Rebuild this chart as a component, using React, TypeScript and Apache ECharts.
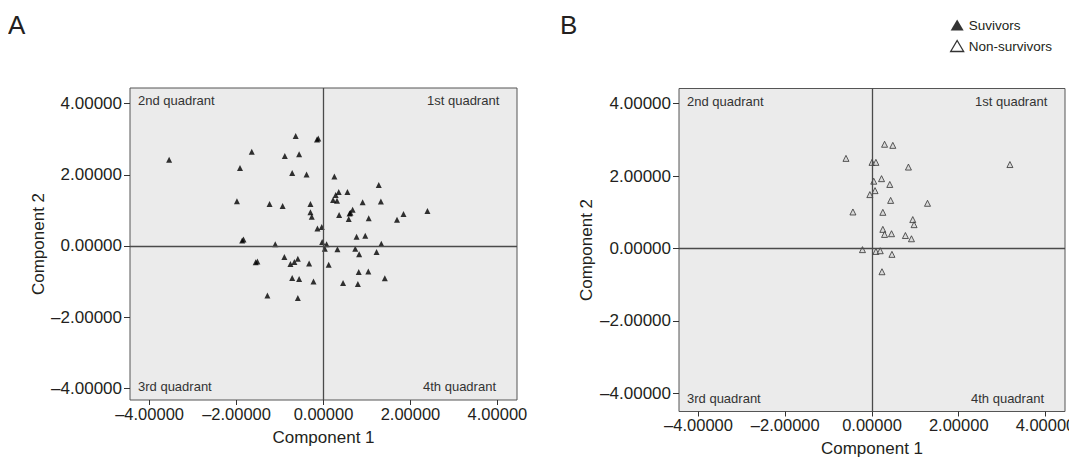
import React, { useEffect, useRef } from "react";
import * as echarts from "echarts";

// Panel A – survivors (Component 1, Component 2)
const survivorsX = [
  -3.55, -1.65, -1.92, -0.64, -0.89, -0.56, -0.15, -0.12, -0.72, -0.39,
  -1.99, -1.24, -0.94, -0.30, -0.30, -0.27, -0.14, -1.87, -1.84, -1.11,
  0.25, 1.27, 0.35, 0.55, 0.28, 0.22, 0.31, 0.90, 1.32, 0.67,
  0.60, 0.62, 0.36, 0.58, 1.04, 1.84, 1.69, 2.39, -0.04, 0.76,
  0.96, -0.03, 0.07, 1.33, 0.03, 0.32, 0.73, 1.22, -0.90, -0.59,
  -0.67, -0.76, -1.56, -1.52, -0.33, -0.72, -0.56, -0.23, -1.29, -0.59,
  0.82, 0.12, 0.81, 1.03, 1.41, 0.45, 0.79,
];
const survivorsY = [
  2.42, 2.65, 2.19, 3.09, 2.53, 2.58, 2.99, 3.02, 2.05, 2.01,
  1.26, 1.18, 1.12, 1.18, 0.95, 0.82, 0.49, 0.15, 0.18, 0.05,
  1.95, 1.71, 1.52, 1.52, 1.43, 1.29, 1.27, 1.23, 1.25, 1.02,
  0.91, 0.93, 0.87, 0.76, 0.78, 0.90, 0.74, 0.98, 0.53, 0.26,
  0.29, 0.11, 0.05, 0.06, -0.08, -0.09, -0.08, -0.17, -0.31, -0.36,
  -0.45, -0.51, -0.46, -0.44, -0.49, -0.90, -0.93, -1.00, -1.39, -1.46,
  -0.23, -0.53, -0.73, -0.72, -0.91, -1.04, -1.07,
];

// Panel B – non-survivors
const nonSurvivorsX = [
  0.29, 0.48, -0.60, 0.00, 0.09, 0.84, 0.22, 0.04, 0.41, 0.07,
  -0.05, 0.43, 1.28, -0.44, 0.25, 0.94, 0.97, 0.25, 0.29, 0.45,
  0.77, 0.91, -0.22, 0.09, 0.19, 0.46, 0.23, 3.18,
];
const nonSurvivorsY = [
  2.88, 2.85, 2.49, 2.38, 2.38, 2.25, 1.93, 1.86, 1.77, 1.60,
  1.49, 1.33, 1.25, 1.01, 1.00, 0.80, 0.66, 0.53, 0.39, 0.41,
  0.36, 0.27, -0.03, -0.08, -0.06, -0.16, -0.64, 2.32,
];

const tickValues = [-4, -2, 0, 2, 4];
const quadrantLabels = ["1st quadrant", "2nd quadrant", "3rd quadrant", "4th quadrant"];
const panelLetters = ["A", "B"];
const seriesNames = ["Suvivors", "Non-survivors"];
const axisNames = ["Component 1", "Component 2"];

const FONT = "'Liberation Sans', Arial, Helvetica, sans-serif";
const TEXT = "#231f20";

const fmt = (v: number) => (v < 0 ? "\u2013" : "") + Math.abs(v).toFixed(5);

const zip = (xs: number[], ys: number[]) => xs.map((x, i) => [x, ys[i]]);

export default function App() {
  const ref = useRef<HTMLDivElement>(null);

  useEffect(() => {
    if (!ref.current) return;
    const chart = echarts.init(ref.current, undefined, { renderer: "svg" });

    const grids = [
      { left: 130, top: 88, width: 387, height: 312 },
      { left: 679, top: 88.5, width: 386, height: 323 },
    ];
    const yRanges = [
      [-4.33, 4.44],
      [-4.5, 4.42],
    ];
    const yNameGaps = [77, 84];
    const xNameGaps = [29, 28];

    const xAxes = grids.map((_, i) => ({
      type: "value",
      gridIndex: i,
      min: -4.45,
      max: 4.45,
      axisLine: { show: false, onZero: false },
      axisTick: { show: true, customValues: tickValues, length: 5, lineStyle: { color: "#333" } },
      axisLabel: { customValues: tickValues, formatter: fmt, fontSize: 16.5, color: TEXT, fontFamily: FONT, margin: 5 },
      splitLine: { show: false },
      name: axisNames[0],
      nameLocation: "middle",
      nameGap: xNameGaps[i],
      nameTextStyle: { fontSize: 17, color: TEXT, fontFamily: FONT },
    }));
    const yAxes = grids.map((_, i) => ({
      type: "value",
      gridIndex: i,
      min: yRanges[i][0],
      max: yRanges[i][1],
      axisLine: { show: false, onZero: false },
      axisTick: { show: true, customValues: tickValues, length: 6, lineStyle: { color: "#333" } },
      axisLabel: { customValues: tickValues, formatter: fmt, fontSize: 17, color: TEXT, fontFamily: FONT, margin: 8 },
      splitLine: { show: false },
      name: axisNames[1],
      nameLocation: "middle",
      nameGap: yNameGaps[i],
      nameTextStyle: { fontSize: 17, color: TEXT, fontFamily: FONT },
    }));

    const zeroLines = {
      silent: true,
      symbol: "none",
      label: { show: false },
      lineStyle: { color: "#4a4a4a", width: 1.3, type: "solid" },
      data: [{ xAxis: 0 }, { yAxis: 0 }],
    };

    const quadText = (g: any) => {
      const style = { fill: "#333", fontSize: 13, fontFamily: FONT };
      const r = g.left + g.width;
      const b = g.top + g.height;
      return [
        { type: "text", left: r - 18 - 72, top: g.top + 6, style: { ...style, text: quadrantLabels[0] } },
        { type: "text", left: g.left + 8, top: g.top + 6, style: { ...style, text: quadrantLabels[1] } },
        { type: "text", left: g.left + 8, top: b - 20, style: { ...style, text: quadrantLabels[2] } },
        { type: "text", left: r - 18 - 76, top: b - 20, style: { ...style, text: quadrantLabels[3] } },
      ];
    };

    chart.setOption({
      animation: false,
      grid: grids.map((g) => ({
        ...g,
        show: true,
        backgroundColor: "#ebebeb",
        borderColor: "#555",
        borderWidth: 1,
        containLabel: false,
        outerBoundsMode: "none",
      })),
      xAxis: xAxes,
      yAxis: yAxes,
      legend: {
        orient: "vertical",
        left: 945,
        top: 13,
        itemWidth: 13,
        itemHeight: 11,
        itemGap: 7,
        textStyle: { fontSize: 13.5, color: TEXT, fontFamily: FONT },
        data: [
          { name: seriesNames[0], icon: "triangle", itemStyle: { color: "#000", borderWidth: 0 } },
          { name: seriesNames[1], icon: "triangle", itemStyle: { color: "#fff", borderColor: "#000", borderWidth: 1.3 } },
        ],
      },
      graphic: [
        { type: "text", left: 8, top: 12, style: { text: panelLetters[0], fontSize: 26, fill: TEXT, fontFamily: FONT } },
        { type: "text", left: 560, top: 12, style: { text: panelLetters[1], fontSize: 26, fill: TEXT, fontFamily: FONT } },
        ...quadText(grids[0]),
        ...quadText(grids[1]),
      ],
      series: [
        {
          name: seriesNames[0],
          type: "scatter",
          xAxisIndex: 0,
          yAxisIndex: 0,
          symbol: "triangle",
          symbolSize: [6, 6],
          itemStyle: { color: "#000" },
          data: zip(survivorsX, survivorsY),
          markLine: zeroLines,
          z: 3,
        },
        {
          name: seriesNames[1],
          type: "scatter",
          xAxisIndex: 1,
          yAxisIndex: 1,
          symbol: "triangle",
          symbolSize: [6, 6],
          itemStyle: { color: "#d6d6d6", borderColor: "#333", borderWidth: 1 },
          data: zip(nonSurvivorsX, nonSurvivorsY),
          markLine: zeroLines,
          z: 3,
        },
      ],
    });

    return () => chart.dispose();
  }, []);

  return <div ref={ref} style={{ width: 1077, height: 457, marginLeft: -8, marginTop: -8 }} />;
}
